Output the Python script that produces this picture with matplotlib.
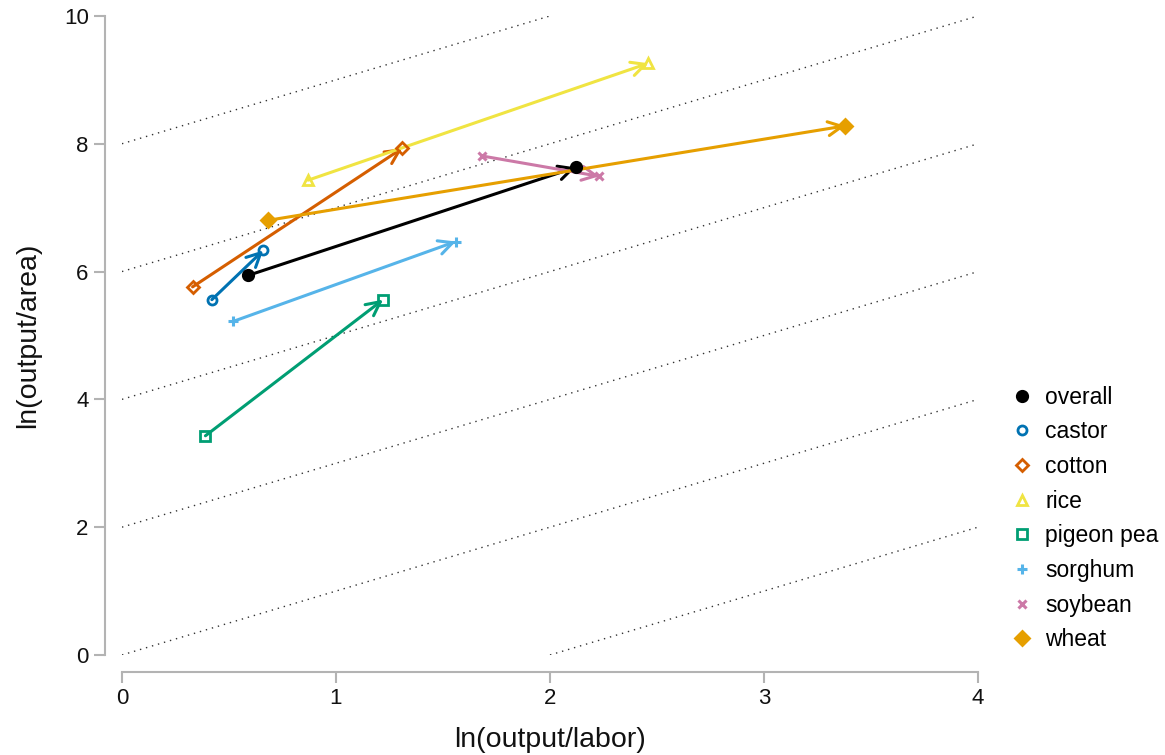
import numpy as np
import matplotlib
matplotlib.use("Agg")
import matplotlib.pyplot as plt
from matplotlib.lines import Line2D

plt.rcParams['font.family'] = ['Liberation Sans', 'DejaVu Sans']

# data: start and end points, ln(output/labor) and ln(output/area)
crops = ['overall', 'castor', 'cotton', 'rice', 'pigeon pea', 'sorghum', 'soybean', 'wheat']
x_start = [0.59, 0.42, 0.33, 0.87, 0.39, 0.52, 1.68, 0.68]
y_start = [5.94, 5.56, 5.76, 7.43, 3.43, 5.22, 7.81, 6.80]
x_end = [2.12, 0.66, 1.31, 2.46, 1.22, 1.56, 2.23, 3.38]
y_end = [7.63, 6.33, 7.93, 9.26, 5.56, 6.47, 7.49, 8.28]
colors = ['#000000', '#0072B2', '#D55E00', '#F0E442', '#009E73', '#56B4E9', '#CC79A7', '#E69F00']
markers = ['o', 'o', 'D', '^', 's', '+', 'x', 'D']
filled = [True, False, False, False, False, True, True, True]
msizes = [7.5, 6.5, 6, 7.5, 6.5, 7.5, 6, 7.5]

iso_offsets = [8, 6, 4, 2, 0, -2]

fig = plt.figure(figsize=(11.65, 7.55), dpi=100)
ax = fig.add_axes([0.1047, 0.1325, 0.7348, 0.8464])

# dotted iso lines, slope 1
for c in iso_offsets:
    xs = np.array([max(0, -c), min(4, 10 - c)])
    ax.plot(xs, xs + c, linestyle=(0, (1, 3.5)), color='#333333', lw=1.0, zorder=1)

handles = []
for i, name in enumerate(crops):
    col = colors[i]
    ax.annotate('', xy=(x_end[i], y_end[i]), xytext=(x_start[i], y_start[i]),
                arrowprops=dict(arrowstyle='->,head_length=1.0,head_width=0.5', color=col,
                                lw=2.2, shrinkA=0, shrinkB=0), zorder=3)
    fc = col if filled[i] else 'none'
    mew = 2.2 if markers[i] in ('+', 'x') else 2.0
    ax.plot([x_start[i], x_end[i]], [y_start[i], y_end[i]], linestyle='none',
            marker=markers[i], ms=msizes[i], mfc=fc, mec=col, mew=mew, zorder=4, clip_on=False)
    handles.append(Line2D([], [], linestyle='none', marker=markers[i], ms=msizes[i],
                          mfc=fc, mec=col, mew=mew, label=name))

ax.set_xlim(0, 4)
ax.set_ylim(0, 10)
ax.set_xticks([0, 1, 2, 3, 4])
ax.set_yticks([0, 2, 4, 6, 8, 10])

for s in ['top', 'right']:
    ax.spines[s].set_visible(False)
ax.spines['left'].set_position(('outward', 12))
ax.spines['bottom'].set_position(('outward', 12))
ax.spines['left'].set_bounds(0, 10)
ax.spines['bottom'].set_bounds(0, 4)
for s in ['left', 'bottom']:
    ax.spines[s].set_color('#b3b3b3')
    ax.spines[s].set_linewidth(1.5)
ax.tick_params(colors='#b3b3b3', labelcolor='#111111', labelsize=16, length=8, width=1.5, pad=4)

ax.set_xlabel('ln(output/labor)', fontsize=20.5, color='#111111', labelpad=13)
ax.set_ylabel('ln(output/area)', fontsize=20.5, color='#111111', labelpad=16)

ax.legend(handles=handles, loc='center left', bbox_to_anchor=(1.0276, 0.2135), frameon=False,
          borderaxespad=0, fontsize=16.5, handlelength=1.0, handletextpad=0.5, labelspacing=0.51)

fig.savefig('out.png', dpi=100)
